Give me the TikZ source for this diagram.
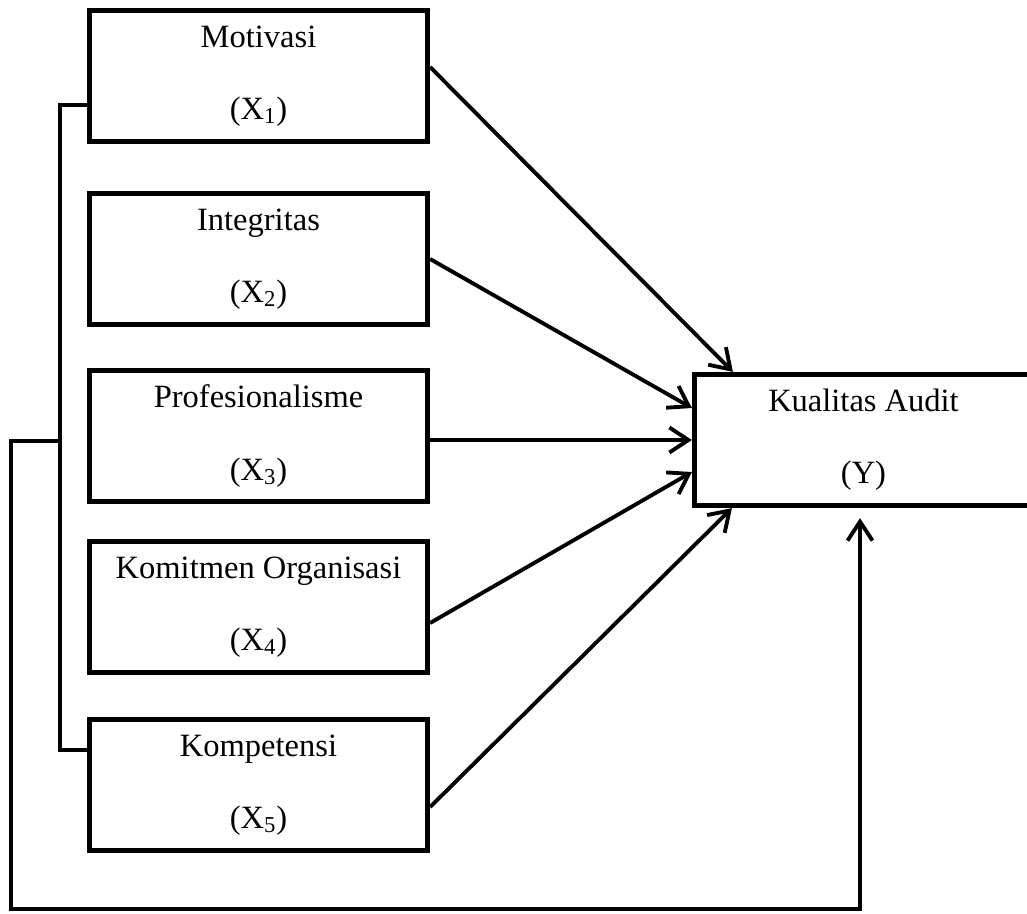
\documentclass[tikz,border=0pt]{standalone}
\usepackage{fontspec}
\setmainfont{Liberation Serif}
\usetikzlibrary{calc,arrows.meta}

\begin{document}
\begin{tikzpicture}[x=0.02cm,y=-0.02cm,
    varbox/.style={draw,line width=3pt,minimum width=6.76cm,minimum height=2.62cm,
        inner sep=0pt,align=center,font=\fontsize{18.5}{41}\selectfont},
    lnk/.style={line width=2.2pt,-{Straight Barb[length=0.38cm,width=0.5cm,line width=2.2pt]}}]
    \useasboundingbox (0,0) rectangle (1027,913);
    % the five variables on the left
    \node[varbox] (mot) at (258.5,76)  {Motivasi\\(X\textsubscript{1})};
    \node[varbox] (int) at (258.5,259) {Integritas\\(X\textsubscript{2})};
    \node[varbox] (pro) at (258.5,436) {Profesionalisme\\(X\textsubscript{3})};
    \node[varbox] (kom) at (258.5,607) {Komitmen Organisasi\\(X\textsubscript{4})};
    \node[varbox] (kmp) at (258.5,785) {Kompetensi\\(X\textsubscript{5})};
    % the dependent variable, cut by the right edge
    \node[varbox] (ka)  at (863.5,440) {Kualitas Audit\\(Y)};
    % partial effects
    \draw[lnk] ($(mot.east)+(0,-9)$) -- ($(ka.north west)+(41,0)$);
    \draw[lnk] (int.east) -- ($(ka.west)+(0,-32)$);
    \draw[lnk] (ka.west -| pro.east) -- (ka.west);
    \draw[lnk] ($(kom.east)+(0,16)$) -- ($(ka.west)+(0,32)$);
    \draw[lnk] ($(kmp.east)+(0,22)$) -- ($(ka.south west)+(40,0)$);
    % bracket round the five and the joint effect
    \coordinate (brk) at (60,441);
    \draw[line width=1.9pt] ($(mot.west)+(0,29)$) -- (60,105) -- (60,750)
         -- ($(kmp.west)+(0,-35)$);
    \draw[lnk,line width=1.9pt] (brk) -- (11,441) -- (11,909)
         -| ($(ka.south)+(-3.5,10)$);
\end{tikzpicture}
\end{document}
